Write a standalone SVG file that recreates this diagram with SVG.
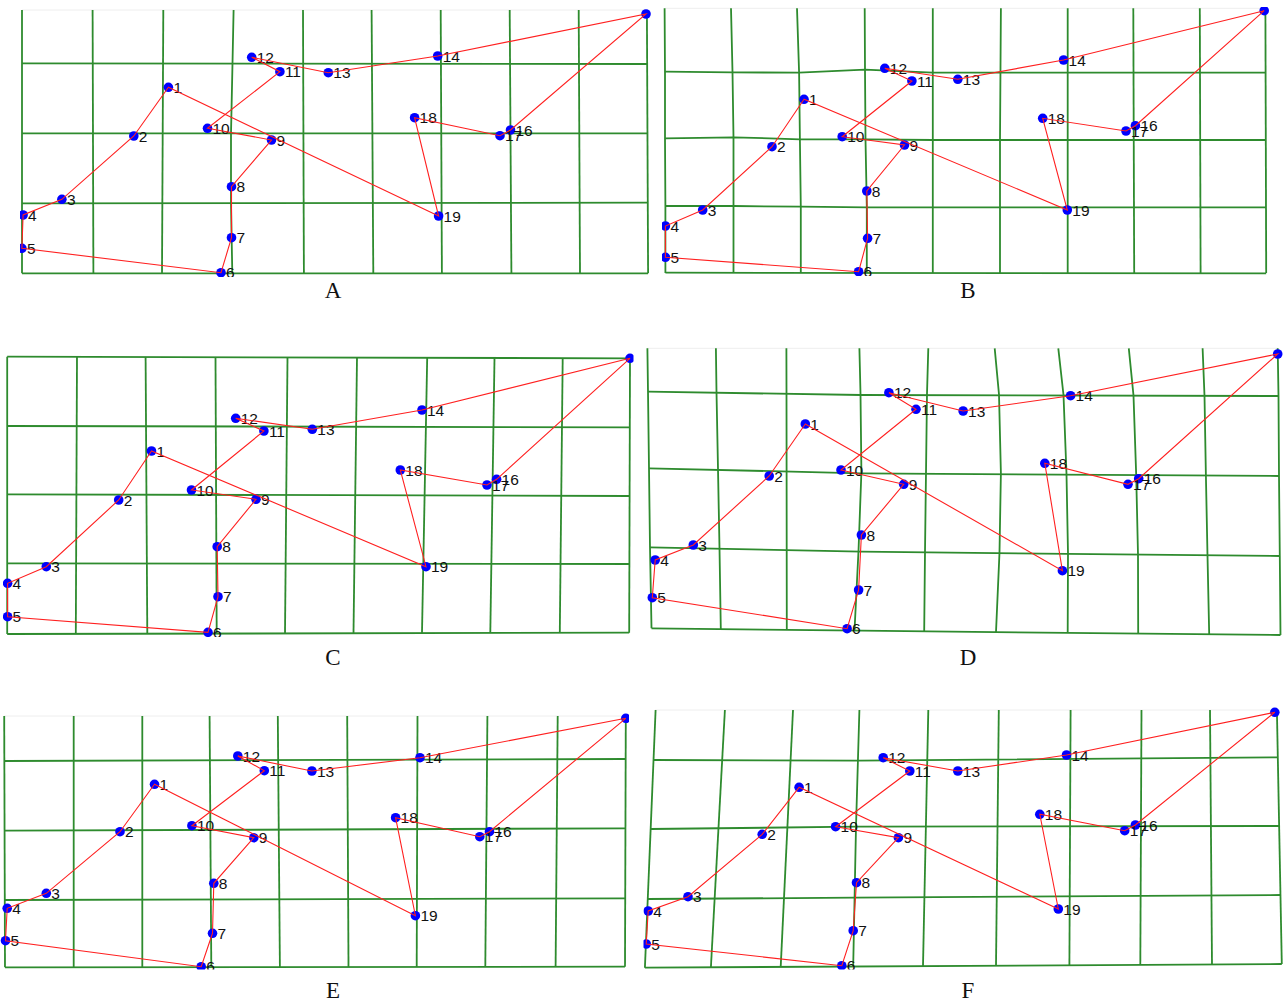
<svg xmlns="http://www.w3.org/2000/svg" width="1283" height="1003" viewBox="0 0 1283 1003">
<style>
.grid{fill:none;stroke:#2e8b2e;stroke-width:1.8}
.faint{fill:none;stroke:#eeeeee;stroke-width:1}
.tour{fill:none;stroke:#ff2020;stroke-width:1.1}
.node circle{fill:#0000ff}
.node text{font-family:"Liberation Sans",Arial,sans-serif;font-size:15.5px;fill:#111}
.cap{font-family:"Liberation Serif","Times New Roman",serif;font-size:23px;fill:#111;text-anchor:middle}
</style>
<defs>
<clipPath id="cA"><rect x="20" y="6" width="633" height="271"/></clipPath>
<clipPath id="cB"><rect x="662" y="7" width="608" height="269"/></clipPath>
<clipPath id="cC"><rect x="3" y="350" width="630.5" height="287"/></clipPath>
<clipPath id="cD"><rect x="643" y="345" width="640" height="295"/></clipPath>
<clipPath id="cE"><rect x="0" y="713" width="629" height="256.5"/></clipPath>
<clipPath id="cF"><rect x="643.5" y="707" width="639.5" height="262.5"/></clipPath>
</defs>
<rect width="1283" height="1003" fill="#ffffff"/>

<!-- ===== Panel A ===== -->
<g id="panelA" clip-path="url(#cA)">
<g id="gridA">
<line class="faint" x1="22" y1="10" x2="648" y2="10"/>
<polyline class="grid" points="22,10 22,273.3"/>
<polyline class="grid" points="92.6,10 93.4,273.3"/>
<polyline class="grid" points="163.3,10 162,273.3"/>
<polyline class="grid" points="233.6,10 232.5,63.5 231,133.3 231,203 232.3,273.3"/>
<polyline class="grid" points="303,10 303.9,273.3"/>
<polyline class="grid" points="371.6,10 373.3,273.3"/>
<polyline class="grid" points="440.7,10 441.9,273.3"/>
<polyline class="grid" points="509.7,10 511.4,273.3"/>
<polyline class="grid" points="578.7,10 580,273.3"/>
<polyline class="grid" points="646.9,10 648.1,273.3"/>
<polyline class="grid" points="22,63.3 648,64"/>
<polyline class="grid" points="22,133.3 648,133.3"/>
<polyline class="grid" points="22,203.3 648,202.7"/>
<polyline class="grid" points="22,273.3 648,273.3"/>
</g>
<g id="nodesA">
<g id="A1" class="node"><circle cx="168.4" cy="87.3" r="4.8"/><text x="173.4" y="92.8">1</text></g>
<g id="A2" class="node"><circle cx="133.8" cy="136" r="4.8"/><text x="138.8" y="141.5">2</text></g>
<g id="A3" class="node"><circle cx="61.9" cy="199.3" r="4.8"/><text x="66.9" y="204.8">3</text></g>
<g id="A4" class="node"><circle cx="23.1" cy="215" r="4.8"/><text x="28.1" y="220.5">4</text></g>
<g id="A5" class="node"><circle cx="21.9" cy="248.3" r="4.8"/><text x="26.9" y="253.8">5</text></g>
<g id="A6" class="node"><circle cx="221" cy="272.7" r="4.8"/><text x="226" y="278.2">6</text></g>
<g id="A7" class="node"><circle cx="231.5" cy="237.7" r="4.8"/><text x="236.5" y="243.2">7</text></g>
<g id="A8" class="node"><circle cx="231.5" cy="186.7" r="4.8"/><text x="236.5" y="192.2">8</text></g>
<g id="A9" class="node"><circle cx="271.5" cy="140" r="4.8"/><text x="276.5" y="145.5">9</text></g>
<g id="A10" class="node"><circle cx="207.5" cy="128.3" r="4.8"/><text x="212.5" y="133.8">10</text></g>
<g id="A11" class="node"><circle cx="279.9" cy="71.7" r="4.8"/><text x="284.9" y="77.2">11</text></g>
<g id="A12" class="node"><circle cx="251.7" cy="57.3" r="4.8"/><text x="256.7" y="62.8">12</text></g>
<g id="A13" class="node"><circle cx="328.3" cy="72.7" r="4.8"/><text x="333.3" y="78.2">13</text></g>
<g id="A14" class="node"><circle cx="437.7" cy="56" r="4.8"/><text x="442.7" y="61.5">14</text></g>
<g id="A15" class="node"><circle cx="646" cy="14" r="4.8"/></g>
<g id="A16" class="node"><circle cx="510.5" cy="130" r="4.8"/><text x="515.5" y="135.5">16</text></g>
<g id="A17" class="node"><circle cx="500" cy="135.7" r="4.8"/><text x="505" y="141.2">17</text></g>
<g id="A18" class="node"><circle cx="414.6" cy="117.7" r="4.8"/><text x="419.6" y="123.2">18</text></g>
<g id="A19" class="node"><circle cx="438.6" cy="216" r="4.8"/><text x="443.6" y="221.5">19</text></g>
</g>
<g id="connectorsA">
<polygon class="tour" points="168.4,87.3 133.8,136 61.9,199.3 23.1,215 21.9,248.3 221,272.7 231.5,237.7 231.5,186.7 271.5,140 207.5,128.3 279.9,71.7 251.7,57.3 328.3,72.7 437.7,56 646,14 510.5,130 500,135.7 414.6,117.7 438.6,216"/>
</g>
</g>
<text class="cap" x="333" y="298">A</text>

<!-- ===== Panel B ===== -->
<g id="panelB" clip-path="url(#cB)">
<g id="gridB">
<line class="faint" x1="665" y1="8.3" x2="1266" y2="8.3"/>
<polyline class="grid" points="664.6,8.3 665,72 665,139 665.4,206 665.4,273"/>
<polyline class="grid" points="731,8.3 732.5,72 733.5,138 733.5,206 733.5,273"/>
<polyline class="grid" points="797,8.3 799.1,72.7 799.9,139.3 800.8,206.7 800.8,273"/>
<polyline class="grid" points="864.7,8.3 865,69.7 865.5,139.3 866.8,207.3 866.8,273"/>
<polyline class="grid" points="932.8,8.3 932.8,273"/>
<polyline class="grid" points="1000.9,8.3 1000,140 1000,273"/>
<polyline class="grid" points="1067.7,8.3 1067.7,273"/>
<polyline class="grid" points="1133.3,8.3 1134.2,273"/>
<polyline class="grid" points="1199.8,8.3 1200.6,273"/>
<polyline class="grid" points="1265.4,8.3 1266.2,273"/>
<polyline class="grid" points="664.8,71.7 732.5,72.3 799,72.7 865,69.7 932.8,72.7 1266,72.7"/>
<polyline class="grid" points="665,138.3 733.5,137.3 799.9,139.3 866,139.3 932.8,140 1266,140"/>
<polyline class="grid" points="665,206 733.5,206 800.8,206.7 866.8,207.3 1266,207.3"/>
<polyline class="grid" points="665.4,272.7 1266.2,273.3"/>
</g>
<g id="nodesB">
<g id="B1" class="node"><circle cx="804" cy="99.3" r="4.8"/><text x="809" y="104.8">1</text></g>
<g id="B2" class="node"><circle cx="772" cy="146.7" r="4.8"/><text x="777" y="152.2">2</text></g>
<g id="B3" class="node"><circle cx="702.7" cy="210" r="4.8"/><text x="707.7" y="215.5">3</text></g>
<g id="B4" class="node"><circle cx="665.4" cy="226" r="4.8"/><text x="670.4" y="231.5">4</text></g>
<g id="B5" class="node"><circle cx="665.4" cy="257.3" r="4.8"/><text x="670.4" y="262.8">5</text></g>
<g id="B6" class="node"><circle cx="858.6" cy="271.7" r="4.8"/><text x="863.6" y="277.2">6</text></g>
<g id="B7" class="node"><circle cx="867.6" cy="238.3" r="4.8"/><text x="872.6" y="243.8">7</text></g>
<g id="B8" class="node"><circle cx="866.8" cy="191" r="4.8"/><text x="871.8" y="196.5">8</text></g>
<g id="B9" class="node"><circle cx="904.5" cy="145" r="4.8"/><text x="909.5" y="150.5">9</text></g>
<g id="B10" class="node"><circle cx="842.2" cy="136.7" r="4.8"/><text x="847.2" y="142.2">10</text></g>
<g id="B11" class="node"><circle cx="911.9" cy="81" r="4.8"/><text x="916.9" y="86.5">11</text></g>
<g id="B12" class="node"><circle cx="884.8" cy="68.3" r="4.8"/><text x="889.8" y="73.8">12</text></g>
<g id="B13" class="node"><circle cx="957.8" cy="79.3" r="4.8"/><text x="962.8" y="84.8">13</text></g>
<g id="B14" class="node"><circle cx="1063.6" cy="60" r="4.8"/><text x="1068.6" y="65.5">14</text></g>
<g id="B15" class="node"><circle cx="1264.2" cy="10.7" r="4.8"/></g>
<g id="B16" class="node"><circle cx="1135.4" cy="125.7" r="4.8"/><text x="1140.4" y="131.2">16</text></g>
<g id="B17" class="node"><circle cx="1126" cy="131" r="4.8"/><text x="1131" y="136.5">17</text></g>
<g id="B18" class="node"><circle cx="1042.7" cy="118.3" r="4.8"/><text x="1047.7" y="123.8">18</text></g>
<g id="B19" class="node"><circle cx="1067.3" cy="210" r="4.8"/><text x="1072.3" y="215.5">19</text></g>
</g>
<g id="connectorsB">
<polygon class="tour" points="804,99.3 772,146.7 702.7,210 665.4,226 665.4,257.3 858.6,271.7 867.6,238.3 866.8,191 904.5,145 842.2,136.7 911.9,81 884.8,68.3 957.8,79.3 1063.6,60 1264.2,10.7 1135.4,125.7 1126,131 1042.7,118.3 1067.3,210"/>
</g>
</g>
<text class="cap" x="968" y="298">B</text>

<!-- ===== Panel C ===== -->
<g id="panelC" clip-path="url(#cC)">
<g id="gridC">
<polyline class="grid" points="7.2,356.7 7.2,634"/>
<polyline class="grid" points="77,356.9 75.8,633.9"/>
<polyline class="grid" points="145.6,357 147.3,633.7"/>
<polyline class="grid" points="215.5,357.2 216.7,633.6"/>
<polyline class="grid" points="287.5,357.4 285,633.4"/>
<polyline class="grid" points="357,357.6 353.5,633.3"/>
<polyline class="grid" points="427.2,357.8 422,633.1"/>
<polyline class="grid" points="494.5,358 490.3,633"/>
<polyline class="grid" points="562.7,358.1 559.8,632.9"/>
<polyline class="grid" points="630,358.3 629.2,632.7"/>
<polyline class="grid" points="7.2,356.7 630,358.3"/>
<polyline class="grid" points="7.2,426 630,427.3"/>
<polyline class="grid" points="7.2,494.3 630,496"/>
<polyline class="grid" points="7.2,563.3 630,564"/>
<polyline class="grid" points="7.2,634 629.2,632.7"/>
</g>
<g id="nodesC">
<g id="C1" class="node"><circle cx="151.5" cy="451" r="4.8"/><text x="156.5" y="456.5">1</text></g>
<g id="C2" class="node"><circle cx="118.7" cy="500" r="4.8"/><text x="123.7" y="505.5">2</text></g>
<g id="C3" class="node"><circle cx="46.3" cy="566.7" r="4.8"/><text x="51.3" y="572.2">3</text></g>
<g id="C4" class="node"><circle cx="7.6" cy="583.3" r="4.8"/><text x="12.6" y="588.8">4</text></g>
<g id="C5" class="node"><circle cx="7.6" cy="616.7" r="4.8"/><text x="12.6" y="622.2">5</text></g>
<g id="C6" class="node"><circle cx="208" cy="632.3" r="4.8"/><text x="213" y="637.8">6</text></g>
<g id="C7" class="node"><circle cx="218" cy="596.7" r="4.8"/><text x="223" y="602.2">7</text></g>
<g id="C8" class="node"><circle cx="217.2" cy="546.7" r="4.8"/><text x="222.2" y="552.2">8</text></g>
<g id="C9" class="node"><circle cx="256" cy="499.3" r="4.8"/><text x="261" y="504.8">9</text></g>
<g id="C10" class="node"><circle cx="191.5" cy="490" r="4.8"/><text x="196.5" y="495.5">10</text></g>
<g id="C11" class="node"><circle cx="263.9" cy="431" r="4.8"/><text x="268.9" y="436.5">11</text></g>
<g id="C12" class="node"><circle cx="235.7" cy="418.3" r="4.8"/><text x="240.7" y="423.8">12</text></g>
<g id="C13" class="node"><circle cx="312.3" cy="429.3" r="4.8"/><text x="317.3" y="434.8">13</text></g>
<g id="C14" class="node"><circle cx="422" cy="410" r="4.8"/><text x="427" y="415.5">14</text></g>
<g id="C15" class="node"><circle cx="630" cy="358.3" r="4.8"/></g>
<g id="C16" class="node"><circle cx="496.6" cy="479.3" r="4.8"/><text x="501.6" y="484.8">16</text></g>
<g id="C17" class="node"><circle cx="487" cy="485" r="4.8"/><text x="492" y="490.5">17</text></g>
<g id="C18" class="node"><circle cx="400.3" cy="470" r="4.8"/><text x="405.3" y="475.5">18</text></g>
<g id="C19" class="node"><circle cx="426" cy="566.7" r="4.8"/><text x="431" y="572.2">19</text></g>
</g>
<g id="connectorsC">
<polygon class="tour" points="151.5,451 118.7,500 46.3,566.7 7.6,583.3 7.6,616.7 208,632.3 218,596.7 217.2,546.7 256,499.3 191.5,490 263.9,431 235.7,418.3 312.3,429.3 422,410 630,358.3 496.6,479.3 487,485 400.3,470 426,566.7"/>
</g>
</g>
<text class="cap" x="333" y="665">C</text>

<!-- ===== Panel D ===== -->
<g id="panelD" clip-path="url(#cD)">
<g id="gridD">
<line class="faint" x1="647" y1="348.3" x2="1278" y2="348.3"/>
<polyline class="grid" points="647.4,348.3 648,391.7 649,468.3 650,547.3 651.5,628.3"/>
<polyline class="grid" points="715.9,348.3 716.5,392 718,469 719.5,548 720.8,629"/>
<polyline class="grid" points="786.4,348.3 786.5,392.5 786.6,470 786.7,549 786.8,629.5"/>
<polyline class="grid" points="859.4,348.3 860.5,393.5 861.4,472 858.5,551 854.5,630.5"/>
<polyline class="grid" points="928.3,348.3 927,394 926,472.5 925,552 924.2,631"/>
<polyline class="grid" points="994.7,348.3 999,394.5 1000.9,473 999.5,552.5 996,632"/>
<polyline class="grid" points="1058.3,348.3 1063.5,395 1066.5,474 1068,553.5 1067.7,632.5"/>
<polyline class="grid" points="1128.8,348.3 1133.5,395.5 1136.2,475 1138,554.5 1138.2,633.5"/>
<polyline class="grid" points="1202.6,348.3 1204.5,395.8 1205.9,475.5 1207.5,555.5 1209.2,634"/>
<polyline class="grid" points="1277.7,348.3 1278.5,396 1279,476 1279.8,556 1280.5,635"/>
<polyline class="grid" points="648,391.7 861,395 1279,396"/>
<polyline class="grid" points="649,468.3 861,473.3 1279,476"/>
<polyline class="grid" points="650,547.3 861,551.7 1280,556"/>
<polyline class="grid" points="651.5,628.3 861,630.7 1280.5,635"/>
</g>
<g id="nodesD">
<g id="D1" class="node"><circle cx="805.3" cy="424" r="4.8"/><text x="810.3" y="429.5">1</text></g>
<g id="D2" class="node"><circle cx="769.2" cy="476" r="4.8"/><text x="774.2" y="481.5">2</text></g>
<g id="D3" class="node"><circle cx="693.3" cy="545" r="4.8"/><text x="698.3" y="550.5">3</text></g>
<g id="D4" class="node"><circle cx="655.2" cy="560" r="4.8"/><text x="660.2" y="565.5">4</text></g>
<g id="D5" class="node"><circle cx="652.3" cy="597.7" r="4.8"/><text x="657.3" y="603.2">5</text></g>
<g id="D6" class="node"><circle cx="847.1" cy="628.7" r="4.8"/><text x="852.1" y="634.2">6</text></g>
<g id="D7" class="node"><circle cx="858.6" cy="590" r="4.8"/><text x="863.6" y="595.5">7</text></g>
<g id="D8" class="node"><circle cx="861.4" cy="535" r="4.8"/><text x="866.4" y="540.5">8</text></g>
<g id="D9" class="node"><circle cx="903.7" cy="484.3" r="4.8"/><text x="908.7" y="489.8">9</text></g>
<g id="D10" class="node"><circle cx="841" cy="470" r="4.8"/><text x="846" y="475.5">10</text></g>
<g id="D11" class="node"><circle cx="916" cy="409.3" r="4.8"/><text x="921" y="414.8">11</text></g>
<g id="D12" class="node"><circle cx="888.9" cy="392.7" r="4.8"/><text x="893.9" y="398.2">12</text></g>
<g id="D13" class="node"><circle cx="963.1" cy="411" r="4.8"/><text x="968.1" y="416.5">13</text></g>
<g id="D14" class="node"><circle cx="1070.6" cy="395.7" r="4.8"/><text x="1075.6" y="401.2">14</text></g>
<g id="D15" class="node"><circle cx="1277.7" cy="354" r="4.8"/></g>
<g id="D16" class="node"><circle cx="1138.7" cy="478.7" r="4.8"/><text x="1143.7" y="484.2">16</text></g>
<g id="D17" class="node"><circle cx="1128" cy="484.3" r="4.8"/><text x="1133" y="489.8">17</text></g>
<g id="D18" class="node"><circle cx="1044.8" cy="463.3" r="4.8"/><text x="1049.8" y="468.8">18</text></g>
<g id="D19" class="node"><circle cx="1062.4" cy="570.7" r="4.8"/><text x="1067.4" y="576.2">19</text></g>
</g>
<g id="connectorsD">
<polygon class="tour" points="805.3,424 769.2,476 693.3,545 655.2,560 652.3,597.7 847.1,628.7 858.6,590 861.4,535 903.7,484.3 841,470 916,409.3 888.9,392.7 963.1,411 1070.6,395.7 1277.7,354 1138.7,478.7 1128,484.3 1044.8,463.3 1062.4,570.7"/>
</g>
</g>
<text class="cap" x="968" y="665">D</text>

<!-- ===== Panel E ===== -->
<g id="panelE" clip-path="url(#cE)">
<g id="gridE">
<line class="faint" x1="4" y1="716" x2="626" y2="716"/>
<polyline class="grid" points="4.2,716 5,967.3"/>
<polyline class="grid" points="73.7,716 73.7,967.2"/>
<polyline class="grid" points="142.3,716 142.3,967.1"/>
<polyline class="grid" points="209.6,716 211.3,967"/>
<polyline class="grid" points="277.8,716 279.9,967"/>
<polyline class="grid" points="347.2,716 348.5,967"/>
<polyline class="grid" points="417.5,716 416.7,966.9"/>
<polyline class="grid" points="487.4,716 485.3,966.8"/>
<polyline class="grid" points="557.7,716 555.6,966.8"/>
<polyline class="grid" points="625.8,716 625,966.7"/>
<polyline class="grid" points="4.5,761 625.5,759"/>
<polyline class="grid" points="4.5,830.7 625.5,828.3"/>
<polyline class="grid" points="4.7,900 625.3,898.3"/>
<polyline class="grid" points="5,967.3 625,966.7"/>
</g>
<g id="nodesE">
<g id="E1" class="node"><circle cx="154.5" cy="784.3" r="4.8"/><text x="159.5" y="789.8">1</text></g>
<g id="E2" class="node"><circle cx="120" cy="831.7" r="4.8"/><text x="125" y="837.2">2</text></g>
<g id="E3" class="node"><circle cx="46.3" cy="893.3" r="4.8"/><text x="51.3" y="898.8">3</text></g>
<g id="E4" class="node"><circle cx="7.2" cy="908.3" r="4.8"/><text x="12.2" y="913.8">4</text></g>
<g id="E5" class="node"><circle cx="5.5" cy="940.7" r="4.8"/><text x="10.5" y="946.2">5</text></g>
<g id="E6" class="node"><circle cx="201.2" cy="966.7" r="4.8"/><text x="206.2" y="972.2">6</text></g>
<g id="E7" class="node"><circle cx="212.5" cy="933.3" r="4.8"/><text x="217.5" y="938.8">7</text></g>
<g id="E8" class="node"><circle cx="213.8" cy="883.3" r="4.8"/><text x="218.8" y="888.8">8</text></g>
<g id="E9" class="node"><circle cx="253.8" cy="837.7" r="4.8"/><text x="258.8" y="843.2">9</text></g>
<g id="E10" class="node"><circle cx="191.9" cy="825.7" r="4.8"/><text x="196.9" y="831.2">10</text></g>
<g id="E11" class="node"><circle cx="264.3" cy="770.7" r="4.8"/><text x="269.3" y="776.2">11</text></g>
<g id="E12" class="node"><circle cx="237.8" cy="756" r="4.8"/><text x="242.8" y="761.5">12</text></g>
<g id="E13" class="node"><circle cx="311.9" cy="771" r="4.8"/><text x="316.9" y="776.5">13</text></g>
<g id="E14" class="node"><circle cx="420" cy="757.7" r="4.8"/><text x="425" y="763.2">14</text></g>
<g id="E15" class="node"><circle cx="625.8" cy="718.3" r="4.8"/></g>
<g id="E16" class="node"><circle cx="489.5" cy="831.7" r="4.8"/><text x="494.5" y="837.2">16</text></g>
<g id="E17" class="node"><circle cx="479.8" cy="836.7" r="4.8"/><text x="484.8" y="842.2">17</text></g>
<g id="E18" class="node"><circle cx="395.6" cy="817.7" r="4.8"/><text x="400.6" y="823.2">18</text></g>
<g id="E19" class="node"><circle cx="415.4" cy="915.7" r="4.8"/><text x="420.4" y="921.2">19</text></g>
</g>
<g id="connectorsE">
<polygon class="tour" points="154.5,784.3 120,831.7 46.3,893.3 7.2,908.3 5.5,940.7 201.2,966.7 212.5,933.3 213.8,883.3 253.8,837.7 191.9,825.7 264.3,770.7 237.8,756 311.9,771 420,757.7 625.8,718.3 489.5,831.7 479.8,836.7 395.6,817.7 415.4,915.7"/>
</g>
</g>
<text class="cap" x="333" y="998">E</text>

<!-- ===== Panel F ===== -->
<g id="panelF" clip-path="url(#cF)">
<g id="gridF">
<line class="faint" x1="655" y1="710" x2="1277" y2="710"/>
<polyline class="grid" points="655.6,710 644.9,967.7"/>
<polyline class="grid" points="724.9,710 710.9,967.3"/>
<polyline class="grid" points="793,710 780.7,966.9"/>
<polyline class="grid" points="859.4,710 856,826.7 853.2,966.5"/>
<polyline class="grid" points="928.3,710 923,966.1"/>
<polyline class="grid" points="998.8,710 996,965.7"/>
<polyline class="grid" points="1070.6,710 1069.4,965.3"/>
<polyline class="grid" points="1141.5,710 1140.3,964.9"/>
<polyline class="grid" points="1210,710 1212,964.5"/>
<polyline class="grid" points="1276.9,710 1281.8,964"/>
<polyline class="grid" points="653.5,760 858,760.7 1278,757.3"/>
<polyline class="grid" points="650.5,829 856,826.7 1279.5,826"/>
<polyline class="grid" points="648,899 855,897.7 1280.8,895"/>
<polyline class="grid" points="644.9,967.7 1281.8,964"/>
</g>
<g id="nodesF">
<g id="F1" class="node"><circle cx="799.1" cy="787.3" r="4.8"/><text x="804.1" y="792.8">1</text></g>
<g id="F2" class="node"><circle cx="762.2" cy="834.3" r="4.8"/><text x="767.2" y="839.8">2</text></g>
<g id="F3" class="node"><circle cx="688" cy="896.7" r="4.8"/><text x="693" y="902.2">3</text></g>
<g id="F4" class="node"><circle cx="648.2" cy="911" r="4.8"/><text x="653.2" y="916.5">4</text></g>
<g id="F5" class="node"><circle cx="646.2" cy="944" r="4.8"/><text x="651.2" y="949.5">5</text></g>
<g id="F6" class="node"><circle cx="841.8" cy="965.7" r="4.8"/><text x="846.8" y="971.2">6</text></g>
<g id="F7" class="node"><circle cx="853.2" cy="930.7" r="4.8"/><text x="858.2" y="936.2">7</text></g>
<g id="F8" class="node"><circle cx="856.5" cy="882.7" r="4.8"/><text x="861.5" y="888.2">8</text></g>
<g id="F9" class="node"><circle cx="898.4" cy="837.7" r="4.8"/><text x="903.4" y="843.2">9</text></g>
<g id="F10" class="node"><circle cx="835.6" cy="826.7" r="4.8"/><text x="840.6" y="832.2">10</text></g>
<g id="F11" class="node"><circle cx="909.8" cy="771" r="4.8"/><text x="914.8" y="776.5">11</text></g>
<g id="F12" class="node"><circle cx="883.2" cy="757.7" r="4.8"/><text x="888.2" y="763.2">12</text></g>
<g id="F13" class="node"><circle cx="957.8" cy="771" r="4.8"/><text x="962.8" y="776.5">13</text></g>
<g id="F14" class="node"><circle cx="1066.5" cy="755" r="4.8"/><text x="1071.5" y="760.5">14</text></g>
<g id="F15" class="node"><circle cx="1274.8" cy="712.3" r="4.8"/></g>
<g id="F16" class="node"><circle cx="1135.4" cy="825" r="4.8"/><text x="1140.4" y="830.5">16</text></g>
<g id="F17" class="node"><circle cx="1124.7" cy="830.7" r="4.8"/><text x="1129.7" y="836.2">17</text></g>
<g id="F18" class="node"><circle cx="1039.8" cy="814.3" r="4.8"/><text x="1044.8" y="819.8">18</text></g>
<g id="F19" class="node"><circle cx="1058.3" cy="909" r="4.8"/><text x="1063.3" y="914.5">19</text></g>
</g>
<g id="connectorsF">
<polygon class="tour" points="799.1,787.3 762.2,834.3 688,896.7 648.2,911 646.2,944 841.8,965.7 853.2,930.7 856.5,882.7 898.4,837.7 835.6,826.7 909.8,771 883.2,757.7 957.8,771 1066.5,755 1274.8,712.3 1135.4,825 1124.7,830.7 1039.8,814.3 1058.3,909"/>
</g>
</g>
<text class="cap" x="968" y="998">F</text>
</svg>
